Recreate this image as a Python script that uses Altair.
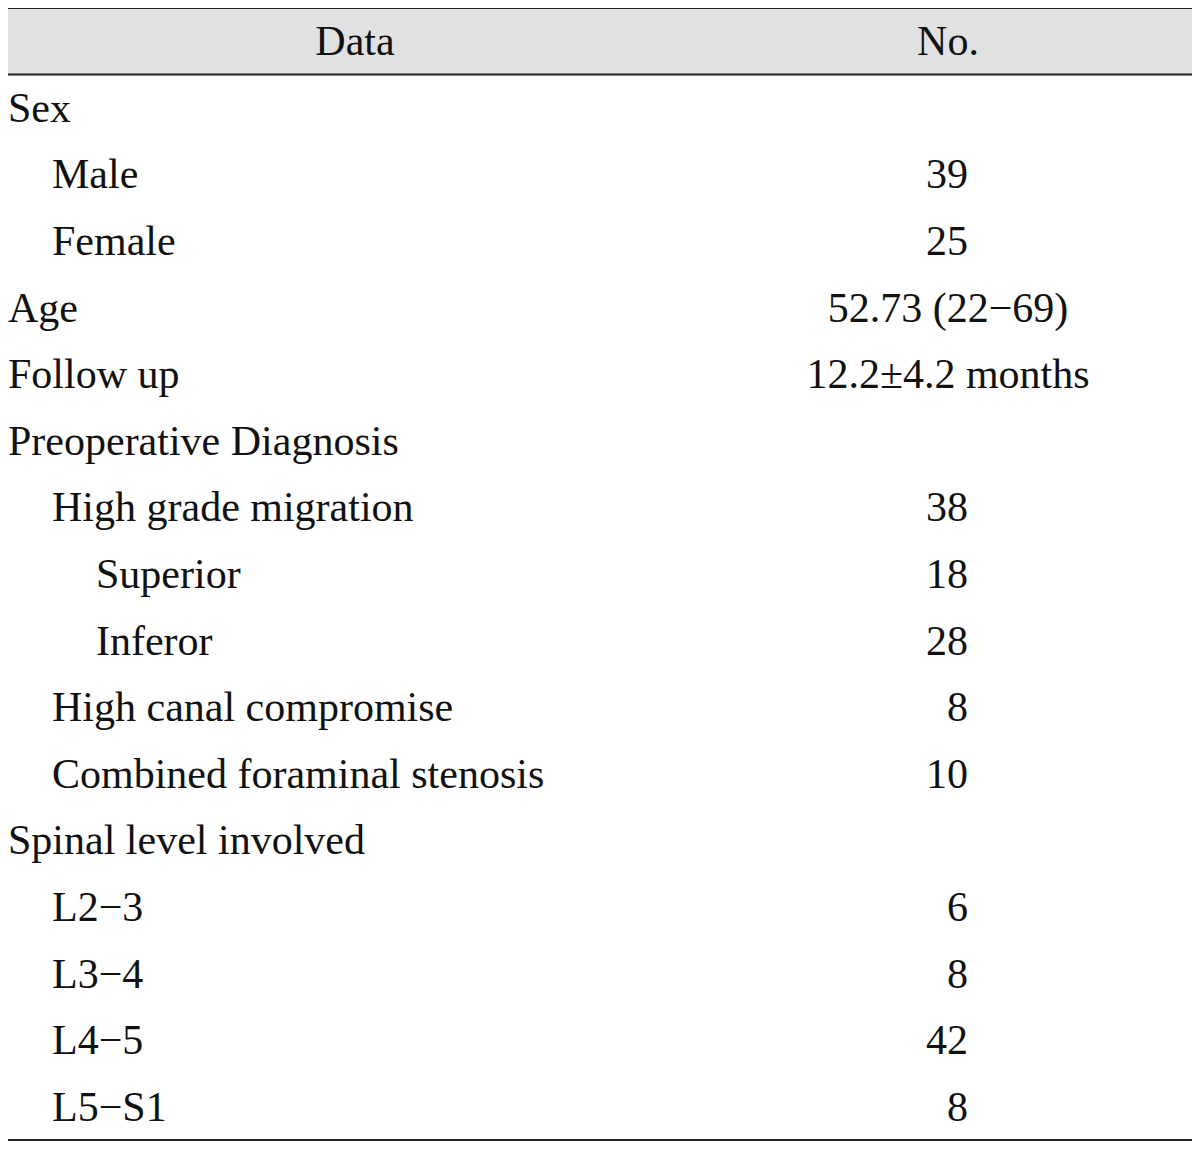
import altair as alt
import pandas as pd

labels = ["Sex", "Male", "Female", "Age", "Follow up", "Preoperative Diagnosis",
          "High grade migration", "Superior", "Inferor", "High canal compromise",
          "Combined foraminal stenosis", "Spinal level involved",
          "L2−3", "L3−4", "L4−5", "L5−S1"]
levels = [0, 1, 1, 0, 0, 0, 1, 2, 2, 1, 1, 0, 1, 1, 1, 1]
values = ["", "39", "25", "52.73 (22−69)", "12.2±4.2 months", "", "38", "18", "28",
          "8", "10", "", "6", "8", "42", "8"]
headers = ["Data", "No."]

df = pd.DataFrame({"row": list(range(len(labels))), "label": labels,
                   "level": levels, "value": values})

FONT = "Liberation Serif"
FS = 42
INK = "#111111"

xs = alt.Scale(domain=[8, 1192], range=[0, 1184], nice=False, zero=False)
ys = alt.Scale(domain=[-1.5, 15.5], range=[0, 1132], nice=False, zero=False)

one = alt.Data(values=[{}])

band = alt.Chart(one).mark_rect(color="#e1e1e1").encode(
    x=alt.X(datum=8, type="quantitative", scale=xs, axis=None),
    x2=alt.X2(datum=1192),
    y=alt.Y(datum=-1.5, type="quantitative", scale=ys, axis=None),
    y2=alt.Y2(datum=-0.5),
)

rules_df = pd.DataFrame({"pos": [-1.5, -0.5, 15.5]})
rules = alt.Chart(rules_df).mark_rule(color="#222222", strokeWidth=2).encode(
    x=alt.X(datum=8, type="quantitative", scale=xs, axis=None),
    x2=alt.X2(datum=1192),
    y=alt.Y("pos:Q", scale=ys, axis=None),
)

hdr_df = pd.DataFrame({"text": headers, "col": [355, 948]})
hdr = alt.Chart(hdr_df).mark_text(font=FONT, fontSize=FS, color=INK,
                                  align="center", baseline="middle", dy=1).encode(
    x=alt.X("col:Q", scale=xs, axis=None),
    y=alt.Y(datum=-1, type="quantitative", scale=ys, axis=None),
    text="text:N",
)

lab = alt.Chart(df).transform_calculate(xpos="8 + 44*datum.level").mark_text(
    font=FONT, fontSize=FS, color=INK, align="left", baseline="middle", dy=1).encode(
    x=alt.X("xpos:Q", scale=xs, axis=None),
    y=alt.Y("row:Q", scale=ys, axis=None),
    text="label:N",
)

num = alt.Chart(df).transform_filter("test(/^[0-9]+$/, datum.value)").mark_text(
    font=FONT, fontSize=FS, color=INK, align="right", baseline="middle", dy=1).encode(
    x=alt.X(datum=968, type="quantitative", scale=xs, axis=None),
    y=alt.Y("row:Q", scale=ys, axis=None),
    text="value:N",
)

other = alt.Chart(df).transform_filter(
    "datum.value != '' && !test(/^[0-9]+$/, datum.value)").mark_text(
    font=FONT, fontSize=FS, color=INK, align="center", baseline="middle", dy=1).encode(
    x=alt.X(datum=948, type="quantitative", scale=xs, axis=None),
    y=alt.Y("row:Q", scale=ys, axis=None),
    text="value:N",
)

chart = alt.layer(band, rules, hdr, lab, num, other).properties(
    width=1184, height=1134,
    autosize=alt.AutoSizeParams(type="none"),
    padding=0,
    background="white",
).configure_view(stroke=None)

chart.save("out.html", embed_options={"renderer": "svg", "actions": False})
